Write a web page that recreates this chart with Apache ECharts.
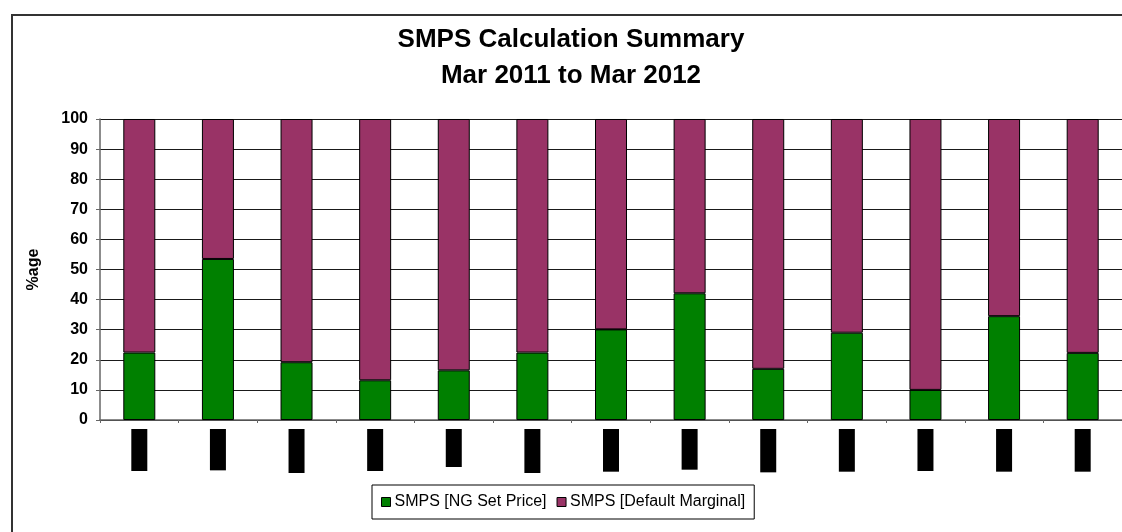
<!DOCTYPE html>
<html>
<head>
<meta charset="utf-8">
<title>SMPS Calculation Summary</title>
<script src="https://cdn.jsdelivr.net/npm/echarts@6/dist/echarts.min.js"></script>
<style>
  html, body { margin: 0; padding: 0; background: #fff; }
  #chart { width: 1122px; height: 532px; }
</style>
</head>
<body>
<div id="chart"></div>
<script>
// months covered by the summary
const months = ["Mar-11", "Apr-11", "May-11", "Jun-11", "Jul-11", "Aug-11", "Sep-11",
                "Oct-11", "Nov-11", "Dec-11", "Jan-12", "Feb-12", "Mar-12"];
// share of periods where NG set the price (%)
const ngSetPrice = [22.4, 53.5, 19.2, 13.2, 16.5, 22.4, 30.1, 42.1, 17.0, 29.0, 10.0, 34.5, 22.3];
// remainder: default marginal (%)
const defaultMarginal = [77.6, 46.5, 80.8, 86.8, 83.5, 77.6, 69.9, 57.9, 83.0, 71.0, 90.0, 65.5, 77.7];
const yTicks = { min: 0, max: 100, interval: 10 };

const font = "'Liberation Sans', Arial, sans-serif";
const chart = echarts.init(document.getElementById("chart"));

chart.setOption({
  animation: false,
  textStyle: { fontFamily: font },
  title: {
    text: "SMPS Calculation Summary\nMar 2011 to Mar 2012",
    left: 566,
    textAlign: "center",
    top: 17,
    textStyle: { fontSize: 26, fontWeight: "bold", color: "#000", lineHeight: 36, fontFamily: font }
  },
  graphic: [
    {
      type: "rect",
      shape: { x: 12, y: 15, width: 1130, height: 540 },
      style: { fill: "none", stroke: "#333", lineWidth: 2 },
      z: -1
    }
  ],
  grid: { left: 100, top: 119, width: 1030, height: 301 },
  legend: {
    left: 372,
    top: 485,
    itemWidth: 9,
    itemHeight: 9,
    itemGap: 10,
    padding: [9, 9],
    borderColor: "#000",
    borderWidth: 1,
    borderRadius: 0,
    icon: "rect",
    itemStyle: { borderColor: "#000", borderWidth: 1 },
    textStyle: { fontSize: 16, color: "#000", fontFamily: font, padding: [0, 0, 0, -1] },
    data: ["SMPS [NG Set Price]", "SMPS [Default Marginal]"]
  },
  xAxis: {
    type: "category",
    data: months,
    axisLine: { lineStyle: { color: "#666", width: 1.5 } },
    axisTick: { show: true, length: 3, lineStyle: { color: "#666" } },
    axisLabel: {
      rotate: 90,
      margin: 9,
      fontSize: 12,
      fontWeight: "bold",
      color: "#000",
      backgroundColor: "#000",
      padding: [2, 2]
    }
  },
  yAxis: {
    type: "value",
    min: yTicks.min,
    max: yTicks.max,
    interval: yTicks.interval,
    name: "%age",
    nameLocation: "middle",
    nameGap: 58,
    nameTextStyle: { fontSize: 16, fontWeight: "bold", color: "#000", fontFamily: font },
    axisLine: { show: true, lineStyle: { color: "#666", width: 1.5 } },
    axisTick: { show: true, length: 4, lineStyle: { color: "#666" } },
    axisLabel: { fontSize: 16, fontWeight: "bold", color: "#000", margin: 12 },
    splitLine: { show: true, lineStyle: { color: "#1a1a1a", width: 1 } }
  },
  series: [
    {
      name: "SMPS [NG Set Price]",
      type: "bar",
      stack: "total",
      barWidth: 32,
      data: ngSetPrice,
      itemStyle: { color: "#008000", borderColor: "#000", borderWidth: 1 }
    },
    {
      name: "SMPS [Default Marginal]",
      type: "bar",
      stack: "total",
      barWidth: 32,
      data: defaultMarginal,
      itemStyle: { color: "#993366", borderColor: "#000", borderWidth: 1 }
    }
  ]
});
</script>
</body>
</html>
